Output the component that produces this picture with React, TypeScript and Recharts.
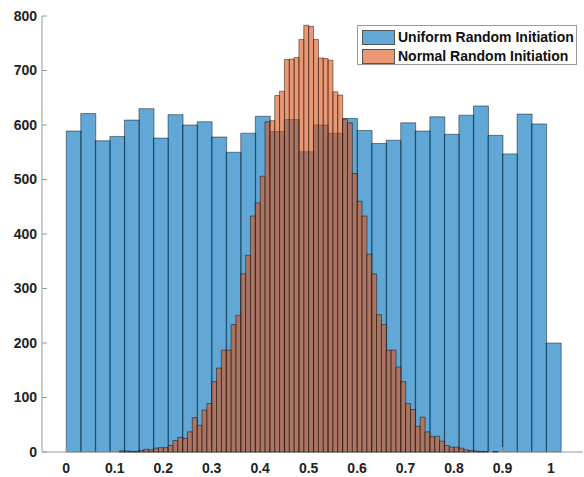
import React from 'react';
import { BarChart, Bar, XAxis, YAxis, Legend } from 'recharts';

// uniform init: bins of 0.03 starting at 0
const blueStart = 0;
const blueWidth = 0.03;
const blueCounts = [
  589, 621, 571, 579, 609, 630, 576, 619, 600, 606, 578, 550, 585, 616, 588, 610, 551,
  600, 585, 612, 590, 566, 572, 604, 589, 615, 583, 618, 635, 581, 547, 620, 602, 200,
];

// normal init: bins of 0.01 starting at 0.10
const orangeStart = 0.1;
const orangeWidth = 0.01;
const orangeCounts = [
  0, 2, 2, 1, 1, 3, 5, 4, 7, 8,
  8, 12, 21, 27, 25, 37, 63, 49, 77, 89,
  129, 154, 187, 187, 234, 251, 327, 361, 433, 457,
  506, 606, 608, 654, 662, 720, 721, 724, 757, 783,
  781, 757, 723, 722, 719, 661, 655, 611, 604, 511,
  460, 433, 363, 327, 252, 234, 187, 187, 156, 129,
  89, 78, 47, 64, 37, 28, 29, 20, 12, 9,
  9, 7, 4, 3, 2, 1, 1, 0, 1, 0,
];

const xTicks = [0, 0.1, 0.2, 0.3, 0.4, 0.5, 0.6, 0.7, 0.8, 0.9, 1];
const yTicks = [0, 100, 200, 300, 400, 500, 600, 700, 800];
const seriesNames = ['Uniform Random Initiation', 'Normal Random Initiation'];

const X_DOMAIN: [number, number] = [-0.05, 1.066];
const Y_DOMAIN: [number, number] = [0, 800];

const W = 584;
const H = 477;
const BLUE = '#0072BD';
const ORANGE = '#D95319';
const AXIS = '#9a9a9a';

const blueData = blueCounts.map((count, i) => ({ x: blueStart + blueWidth * (i + 0.5), count }));
const orangeData = orangeCounts.map((count, i) => ({ x: orangeStart + orangeWidth * (i + 0.5), count }));

const tickStyle = { fill: '#222', fontSize: 14, fontWeight: 700 };

function LegendBox() {
  const swatches = ['#62A8D8', '#E89875'];
  return (
    <div
      style={{
        border: `1px solid ${AXIS}`,
        background: '#fff',
        width: 220,
        height: 40,
        boxSizing: 'border-box',
        padding: '2px 0 0 4px',
        fontSize: 14,
        fontWeight: 700,
        color: '#111',
        overflow: 'visible',
      }}
    >
      {seriesNames.map((name, i) => (
        <div key={name} style={{ display: 'flex', alignItems: 'center', height: 19 }}>
          <span
            style={{
              display: 'inline-block',
              flexShrink: 0,
              width: 33,
              height: 15,
              background: swatches[i],
              border: '1px solid #555',
              boxSizing: 'border-box',
              marginRight: 3,
            }}
          />
          <span style={{ lineHeight: '19px', whiteSpace: 'nowrap', flexShrink: 0 }}>{name}</span>
        </div>
      ))}
    </div>
  );
}

export default function App() {
  return (
    <div
      style={{
        position: 'absolute',
        left: 0,
        top: 0,
        width: W,
        height: H,
        background: '#fff',
        fontFamily: "'Liberation Sans', Arial, sans-serif",
      }}
    >
      <div style={{ position: 'absolute', left: 0, top: 0 }}>
        <BarChart
          width={W}
          height={H}
          data={blueData}
          margin={{ top: 16, right: 1, bottom: 0, left: 0 }}
          barCategoryGap={0}
          barGap={0}
        >
          <XAxis
            xAxisId="b"
            type="number"
            dataKey="x"
            domain={X_DOMAIN}
            ticks={xTicks}
            tickFormatter={(v: number) => String(v)}
            height={25}
            tickSize={-5}
            tickMargin={16}
            stroke={AXIS}
            tick={tickStyle}
            allowDataOverflow
          />
          <XAxis
            xAxisId="t"
            orientation="top"
            type="number"
            domain={X_DOMAIN}
            ticks={xTicks}
            height={0}
            tickSize={-5}
            tick={false}
            stroke={AXIS}
            allowDataOverflow
          />
          <YAxis
            yAxisId="l"
            type="number"
            domain={Y_DOMAIN}
            ticks={yTicks}
            width={42}
            tickSize={-5}
            tickMargin={10}
            stroke={AXIS}
            tick={tickStyle}
          />
          <YAxis
            yAxisId="r"
            orientation="right"
            type="number"
            domain={Y_DOMAIN}
            ticks={yTicks}
            width={0}
            tickSize={-5}
            tick={false}
            stroke={AXIS}
          />
          <Bar
            xAxisId="b"
            yAxisId="l"
            dataKey="count"
            name={seriesNames[0]}
            fill={BLUE}
            fillOpacity={0.62}
            stroke="#000"
            strokeOpacity={0.75}
            strokeWidth={0.6}
            isAnimationActive={false}
          />
        </BarChart>
      </div>
      <div style={{ position: 'absolute', left: 0, top: 0 }}>
        <BarChart
          width={W}
          height={H}
          data={orangeData}
          margin={{ top: 16, right: 1, bottom: 25, left: 42 }}
          barCategoryGap={0}
          barGap={0}
        >
          <XAxis xAxisId="b" type="number" dataKey="x" domain={X_DOMAIN} hide allowDataOverflow />
          <YAxis yAxisId="l" type="number" domain={Y_DOMAIN} hide />
          <Bar
            xAxisId="b"
            yAxisId="l"
            dataKey="count"
            name={seriesNames[1]}
            fill={ORANGE}
            fillOpacity={0.6}
            stroke="#000"
            strokeOpacity={0.75}
            strokeWidth={0.6}
            isAnimationActive={false}
          />
          <Legend
            layout="vertical"
            align="center"
            verticalAlign="middle"
            content={() => <LegendBox />}
            wrapperStyle={{ left: 357, top: 25, width: 220, height: 40 }}
          />
        </BarChart>
      </div>
    </div>
  );
}
